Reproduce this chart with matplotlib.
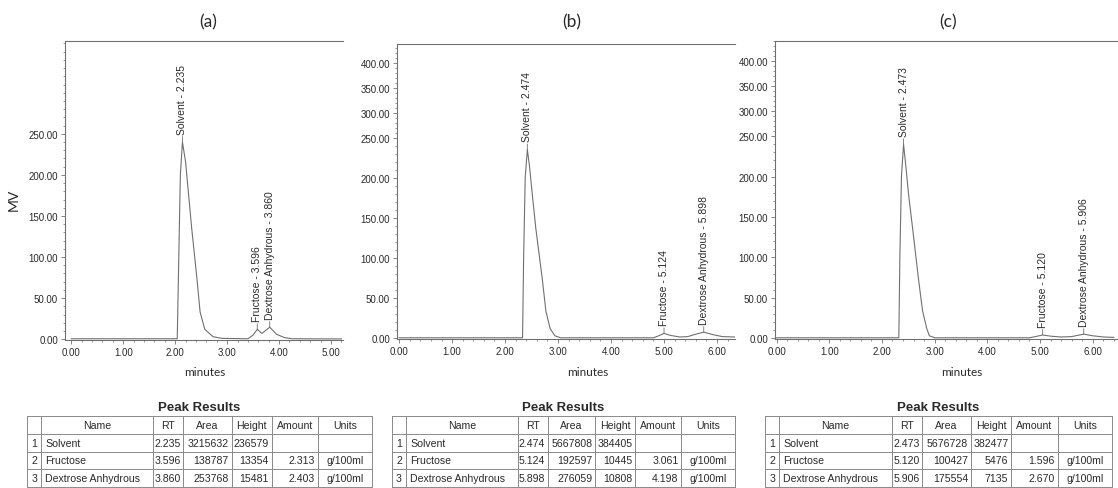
import numpy as np
import matplotlib
matplotlib.use("Agg")
import matplotlib.pyplot as plt
from matplotlib.ticker import MultipleLocator, FormatStrFormatter

plt.rcParams['font.family'] = ['Liberation Sans', 'DejaVu Sans']

# ---- traces (minutes, mV) ----
t_a = [0.0, 1.0, 2.04, 2.07, 2.10, 2.14, 2.20, 2.26, 2.32, 2.42, 2.48, 2.57, 2.73, 2.90,
       3.40, 3.50, 3.58, 3.67, 3.82, 3.95, 4.10, 4.25, 5.20]
v_a = [0.5, 0.5, 0.5, 100, 200, 240, 216, 175, 134, 73, 33, 12, 3, 1,
       0.5, 5, 12, 7, 14.6, 6, 2, 0.5, 0.3]

t_b = [0.0, 1.0, 2.33, 2.35, 2.38, 2.42, 2.46, 2.52, 2.58, 2.70, 2.77, 2.85, 2.94, 3.05,
       4.80, 4.90, 5.00, 5.12, 5.30, 5.45, 5.60, 5.75, 5.92, 6.10, 6.34]
v_b = [0.5, 0.5, 0.5, 100, 200, 235, 215, 175, 137, 75, 34, 12, 3, 0.5,
       0.5, 3, 6, 3.5, 1.5, 2, 5, 7.5, 4.5, 2, 1.5]

t_c = [0.0, 1.0, 2.32, 2.34, 2.37, 2.41, 2.45, 2.51, 2.58, 2.69, 2.77, 2.85, 2.90, 3.00,
       4.80, 4.95, 5.05, 5.20, 5.40, 5.60, 5.83, 6.00, 6.20, 6.40]
v_c = [0.5, 0.5, 0.5, 100, 200, 240, 215, 175, 137, 75, 34, 12, 3, 0.5,
       0.5, 2.5, 4, 2.5, 1.5, 2, 5, 3, 1.5, 1]

# peak labels: (apex time, apex height, text)
peaks_a = [(2.14, 240, 'Solvent - 2.235'), (3.58, 12, 'Fructose - 3.596'),
           (3.82, 14.6, 'Dextrose Anhydrous - 3.860')]
peaks_b = [(2.42, 235, 'Solvent - 2.474'), (5.00, 6, 'Fructose - 5.124'),
           (5.75, 7.5, 'Dextrose Anhydrous - 5.898')]
peaks_c = [(2.41, 240, 'Solvent - 2.473'), (5.05, 4, 'Fructose - 5.120'),
           (5.83, 5, 'Dextrose Anhydrous - 5.906')]

# ---- peak results tables ----
names = ['Solvent', 'Fructose', 'Dextrose Anhydrous']
rt_a = [2.235, 3.596, 3.860]
area_a = [3215632, 138787, 253768]
height_a = [236579, 13354, 15481]
amount_a = [None, 2.313, 2.403]
rt_b = [2.474, 5.124, 5.898]
area_b = [5667808, 192597, 276059]
height_b = [384405, 10445, 10808]
amount_b = [None, 3.061, 4.198]
rt_c = [2.473, 5.120, 5.906]
area_c = [5676728, 100427, 175554]
height_c = [382477, 5476, 7135]
amount_c = [None, 1.596, 2.670]
units = [None, 'g/100ml', 'g/100ml']
headers = ['', 'Name', 'RT', 'Area', 'Height', 'Amount', 'Units']

W, H = 1118, 489
fig = plt.figure(figsize=(W / 100, H / 100), dpi=100)
LINE = '#707070'
TXT = '#2a2a2a'


def px_axes(x0, y0, x1, y1):
    return fig.add_axes([x0 / W, 1 - y1 / H, (x1 - x0) / W, (y1 - y0) / H])


def fwd(y):
    y = np.asarray(y, dtype=float)
    return np.where(y <= 250, y, 250 + (y - 250) * 0.62)


def inv(y):
    y = np.asarray(y, dtype=float)
    return np.where(y <= 250, y, 250 + (y - 250) / 0.62)


def chromatogram(box, t, v, peaks, xlim, ylim, xmax_tick, ymax_tick, squeezed):
    ax = px_axes(*box)
    if squeezed:
        ax.set_yscale('function', functions=(fwd, inv))
    ax.plot(t, v, color=LINE, lw=0.8)
    ax.set_xlim(*xlim)
    ax.set_ylim(*ylim)
    ax.set_xticks(np.arange(0, xmax_tick + 0.5, 1.0))
    ax.set_yticks(np.arange(0, ymax_tick + 1, 50))
    ax.xaxis.set_minor_locator(MultipleLocator(0.2))
    ax.yaxis.set_minor_locator(MultipleLocator(10))
    ax.xaxis.set_major_formatter(FormatStrFormatter('%.2f'))
    ax.yaxis.set_major_formatter(FormatStrFormatter('%.2f'))
    ax.tick_params(which='major', length=3, width=0.6, labelsize=7,
                   colors=LINE, labelcolor=TXT, pad=2)
    ax.tick_params(which='minor', length=1.5, width=0.5, colors=LINE)
    ax.spines['right'].set_visible(False)
    for s in ('left', 'top', 'bottom'):
        ax.spines[s].set_color(LINE)
        ax.spines[s].set_linewidth(0.8)
    for x, y, lab in peaks:
        ax.annotate(lab, xy=(x, y), xytext=(0, 6), textcoords='offset points',
                    rotation=90, ha='center', va='bottom', fontsize=7.5, color=TXT,
                    arrowprops=dict(arrowstyle='-', color=LINE, lw=0.6,
                                    shrinkA=0, shrinkB=0))
    return ax


chromatogram((65, 42, 343, 341), t_a, v_a, peaks_a, (-0.12, 5.23), (-1, 363), 5, 250, False)
chromatogram((397, 45, 735, 340), t_b, v_b, peaks_b, (-0.04, 6.34), (-1, 438), 6, 400, True)
chromatogram((775, 42, 1118, 340), t_c, v_c, peaks_c, (-0.03, 6.48), (-1, 440), 6, 400, True)

title_font = dict(family=['Lato', 'DejaVu Sans'], color=TXT)
for x, lab in [(208, '(a)'), (572, '(b)'), (948, '(c)')]:
    fig.text(x / W, 1 - 22 / H, lab, ha='center', va='center', fontsize=12.5, **title_font)
for x in (205, 588, 962):
    fig.text(x / W, 1 - 372 / H, 'minutes', ha='center', va='center', fontsize=8.5, **title_font)
fig.text(14 / W, 1 - 200 / H, 'MV', ha='center', va='center', rotation=90, fontsize=10,
         **title_font)


def fmt(val, spec):
    return '' if val is None else format(val, spec)


def peak_table(x0, x1, rt, area, height, amount):
    top, bottom = 417, 488
    ax = px_axes(x0, top, x1, bottom)
    ax.set_xlim(0, 1)
    ax.set_ylim(4, 0)
    ax.axis('off')
    widths = np.array([14, 112, 30, 48, 40, 46, 54], dtype=float)
    edges = np.concatenate([[0], np.cumsum(widths)]) / widths.sum()
    for e in edges:
        ax.plot([e, e], [0, 4], color='#8a8a8a', lw=0.7, clip_on=False)
    for r in range(5):
        ax.plot([0, 1], [r, r], color='#8a8a8a', lw=0.7, clip_on=False)
    rows = [headers]
    for i in range(3):
        rows.append([str(i + 1), names[i], format(rt[i], '.3f'), str(area[i]),
                     str(height[i]), fmt(amount[i], '.3f'), units[i] or ''])
    pad = 0.008
    for r, row in enumerate(rows):
        for c, val in enumerate(row):
            if r == 0 or c in (0, 6):
                x, ha = (edges[c] + edges[c + 1]) / 2, 'center'
            elif c == 1:
                x, ha = edges[c] + pad * 1.5, 'left'
            else:
                x, ha = edges[c + 1] - pad, 'right'
            ax.text(x, r + 0.5, val, ha=ha, va='center', fontsize=7.6, color=TXT)
    fig.text((x0 + x1) / 2 / W, 1 - 408 / H, 'Peak Results', ha='center', va='center',
             fontsize=9.5, fontweight='bold', color=TXT)


peak_table(27, 372, rt_a, area_a, height_a, amount_a)
peak_table(392, 735, rt_b, area_b, height_b, amount_b)
peak_table(765, 1112, rt_c, area_c, height_c, amount_c)

fig.savefig('out.png', dpi=100)
